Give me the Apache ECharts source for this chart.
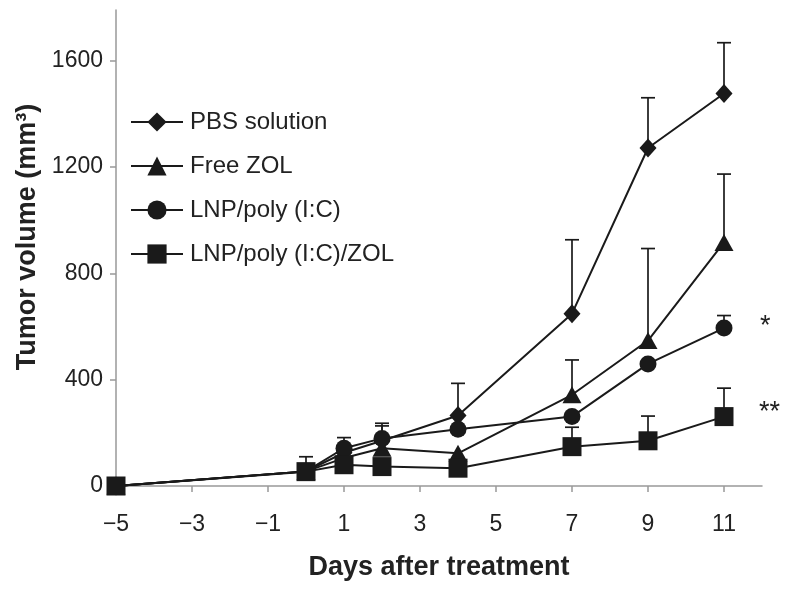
<!DOCTYPE html>
<html>
<head>
<meta charset="utf-8">
<script src="https://cdn.jsdelivr.net/npm/echarts@6/dist/echarts.min.js"></script>
<style>html,body{margin:0;padding:0;background:#fff}#c{width:795px;height:590px}</style>
</head>
<body>
<div id="c"></div>
<script>
var days = [-5, 0, 1, 2, 4, 7, 9, 11];
var xTicks = [-5, -3, -1, 1, 3, 5, 7, 9, 11];
var yTicks = [0, 400, 800, 1200, 1600];
var seriesNames = ['PBS solution', 'Free ZOL', 'LNP/poly (I:C)', 'LNP/poly (I:C)/ZOL'];
var pbs     = [0, 55, 125, 170, 265, 648, 1271, 1476];
var pbsSD   = [0, 0, 0, 66, 121, 278, 189, 191];
var freeZol   = [0, 55, 105, 142, 123, 343, 547, 916];
var freeZolSD = [0, 0, 0, 0, 0, 131, 346, 257];
var lnp     = [0, 55, 142, 179, 213, 261, 459, 594];
var lnpSD   = [0, 0, 40, 47, 0, 0, 0, 47];
var lnpZol   = [0, 54, 80, 73, 67, 148, 170, 261];
var lnpZolSD = [0, 56, 0, 0, 0, 73, 93, 107];

var values = [pbs, freeZol, lnp, lnpZol];
var sds = [pbsSD, freeZolSD, lnpSD, lnpZolSD];
var symbols = ['diamond', 'triangle', 'circle', 'rect'];
var sizes = [[17, 19], [19, 17], 17, 19];
var ink = '#1a1a1a';
var font = 'Liberation Sans, Arial, sans-serif';

function pairs(v) { return days.map(function (d, i) { return [d, v[i]]; }); }

var series = [];
values.forEach(function (v, k) {
  var err = [];
  days.forEach(function (d, i) { if (sds[k][i] > 0) err.push([d, v[i], v[i] + sds[k][i]]); });
  series.push({
    type: 'custom',
    z: 1,
    silent: true,
    data: err,
    renderItem: function (params, api) {
      var p0 = api.coord([api.value(0), api.value(1)]);
      var p1 = api.coord([api.value(0), api.value(2)]);
      var hw = 7;
      return {
        type: 'group',
        children: [
          { type: 'line', shape: { x1: p0[0], y1: p0[1], x2: p1[0], y2: p1[1] }, style: { stroke: ink, lineWidth: 1.7 } },
          { type: 'line', shape: { x1: p1[0] - hw, y1: p1[1], x2: p1[0] + hw, y2: p1[1] }, style: { stroke: ink, lineWidth: 1.7 } }
        ]
      };
    }
  });
});
values.forEach(function (v, k) {
  series.push({
    name: seriesNames[k],
    type: 'line',
    z: 3,
    data: pairs(v),
    symbol: symbols[k],
    symbolSize: sizes[k],
    showAllSymbol: true,
    lineStyle: { color: ink, width: 2 },
    itemStyle: { color: ink, borderWidth: 0 },
    emphasis: { disabled: true }
  });
});

var chart = echarts.init(document.getElementById('c'), null, { renderer: 'canvas' });
chart.setOption({
  animation: false,
  backgroundColor: '#fff',
  textStyle: { fontFamily: font },
  grid: { left: 116, right: 33, top: 10, bottom: 104, containLabel: false },
  legend: {
    orient: 'vertical',
    left: 130,
    top: 110,
    padding: 0,
    itemWidth: 52,
    itemHeight: 24,
    itemGap: 20,
    data: seriesNames,
    textStyle: { fontSize: 24, color: '#222', fontFamily: font, padding: [0, 0, 0, 2] }
  },
  xAxis: {
    type: 'value',
    min: -5,
    max: 12,
    name: 'Days after treatment',
    nameLocation: 'middle',
    nameGap: 68,
    nameTextStyle: { fontSize: 27, fontWeight: 'bold', color: '#222' },
    splitLine: { show: false },
    axisLine: { onZero: false, lineStyle: { color: '#999', width: 1.5 } },
    axisTick: { show: true, inside: false, length: 6, customValues: xTicks.slice(1), lineStyle: { color: '#999', width: 1.5 } },
    axisLabel: {
      customValues: xTicks,
      margin: 27,
      fontSize: 23,
      color: '#222',
      formatter: function (v) { return v < 0 ? '\u2212' + Math.abs(v) : String(v); }
    }
  },
  yAxis: {
    type: 'value',
    min: 0,
    max: 1790,
    name: 'Tumor volume (mm\u00b3)',
    nameLocation: 'middle',
    nameGap: 72,
    nameRotate: 90,
    nameTextStyle: { fontSize: 27, fontWeight: 'bold', color: '#222', padding: [0, 0, 0, 22] },
    splitLine: { show: false },
    axisLine: { show: true, onZero: false, lineStyle: { color: '#999', width: 1.5 } },
    axisTick: { show: true, inside: false, length: 6, customValues: yTicks, lineStyle: { color: '#999', width: 1.5 } },
    axisLabel: { customValues: yTicks, margin: 13, fontSize: 23, color: '#222', formatter: function (v) { return String(v); } }
  },
  graphic: [
    { type: 'text', left: 760, top: 313, style: { text: '*', fontSize: 27, fill: '#222', fontFamily: font } },
    { type: 'text', left: 759, top: 399, style: { text: '**', fontSize: 27, fill: '#222', fontFamily: font } }
  ],
  series: series
});
</script>
</body>
</html>
